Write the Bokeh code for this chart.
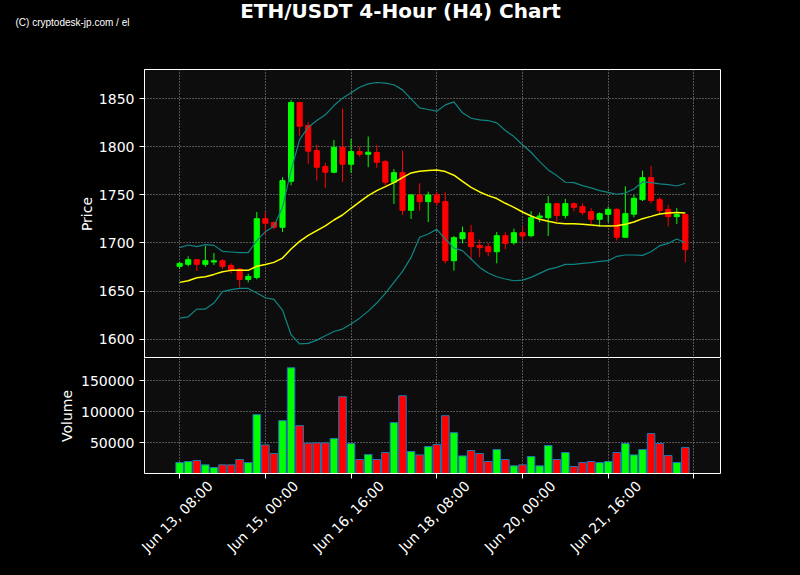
import math
from bokeh.plotting import figure
from bokeh.layouts import column, row
from bokeh.models import (Range1d, FixedTicker, Label, ColumnDataSource,
                          NumeralTickFormatter, LinearAxis)
from bokeh.embed import file_html
from bokeh.resources import INLINE

# ---------------- data ----------------
opens = [1675.7, 1677.8, 1682.6, 1677.8, 1680.2, 1681.6, 1676.7, 1672.9, 1662.1, 1664.2,
         1725.3, 1721.2, 1716.3, 1764.2, 1846.2, 1822.2, 1796.1, 1779.5, 1773.6, 1799.6,
         1781.9, 1795.1, 1792.3, 1794.1, 1784.7, 1763.2, 1773.2, 1734.0, 1750.0, 1743.0,
         1750.0, 1743.0, 1681.6, 1704.5, 1710.7, 1697.5, 1696.2, 1690.9, 1707.6, 1700.3,
         1710.7, 1707.6, 1726.3, 1726.3, 1740.9, 1728.5, 1740.9, 1737.8, 1732.6, 1724.6,
         1729.8, 1735.0, 1705.9, 1730.0, 1745.1, 1768.0, 1745.1, 1735.0, 1727.4, 1729.5]
highs = [1679.8, 1686.1, 1683.0, 1696.8, 1689.5, 1682.9, 1678.8, 1673.9, 1668.0, 1732.3,
         1732.3, 1722.5, 1768.4, 1848.6, 1846.2, 1825.6, 1802.4, 1783.6, 1807.3, 1839.6,
         1808.3, 1800.3, 1810.7, 1802.0, 1786.4, 1777.0, 1796.1, 1750.3, 1762.1, 1753.4,
         1753.4, 1752.7, 1707.3, 1717.0, 1718.7, 1703.4, 1700.0, 1711.4, 1711.1, 1714.9,
         1717.4, 1733.0, 1731.6, 1748.9, 1740.9, 1745.8, 1742.0, 1741.3, 1736.4, 1731.9,
         1737.8, 1736.1, 1759.0, 1750.0, 1775.3, 1780.2, 1747.5, 1739.6, 1736.4, 1729.5]
lows = [1672.9, 1675.7, 1670.8, 1675.3, 1677.0, 1672.9, 1668.4, 1653.8, 1659.0, 1662.1,
        1708.6, 1714.2, 1711.4, 1760.0, 1811.1, 1782.3, 1764.9, 1757.3, 1772.5, 1763.5,
        1772.9, 1789.6, 1778.8, 1778.1, 1760.0, 1740.6, 1729.1, 1725.0, 1733.6, 1721.8,
        1738.9, 1678.8, 1671.2, 1699.6, 1682.3, 1685.0, 1686.1, 1678.8, 1693.4, 1698.2,
        1703.1, 1705.9, 1721.5, 1707.3, 1722.2, 1725.6, 1733.0, 1729.1, 1719.7, 1716.9,
        1721.5, 1702.4, 1705.9, 1726.7, 1743.7, 1741.3, 1729.5, 1717.0, 1719.7, 1679.8]
closes = [1678.8, 1682.6, 1677.8, 1681.6, 1681.5, 1675.7, 1671.8, 1662.1, 1665.2, 1725.3,
          1720.5, 1716.3, 1764.9, 1846.2, 1821.5, 1795.5, 1778.8, 1773.6, 1799.6, 1781.9,
          1795.1, 1792.3, 1794.4, 1784.0, 1763.2, 1773.2, 1734.0, 1750.0, 1743.0, 1750.0,
          1742.3, 1681.6, 1705.5, 1710.7, 1696.2, 1695.1, 1690.9, 1707.6, 1699.6, 1710.7,
          1707.3, 1726.3, 1728.1, 1740.9, 1728.5, 1740.9, 1737.1, 1731.6, 1724.6, 1730.5,
          1735.0, 1705.9, 1730.5, 1746.5, 1768.0, 1744.1, 1733.7, 1727.4, 1729.5, 1693.0]
volumes = [17700, 19400, 21000, 14000, 9700, 14000, 14000, 22600, 17700, 95200,
           46200, 32300, 85500, 171000, 77400, 48900, 49500, 49500, 56500, 124200,
           48400, 22600, 30600, 22600, 33900, 82300, 125800, 35500, 30100, 43500,
           46800, 93500, 66100, 28500, 37100, 32300, 19400, 38700, 22600, 12400,
           14000, 27400, 12400, 45200, 22600, 33900, 11300, 17700, 19400, 17700,
           19400, 33900, 48400, 30100, 38700, 64500, 48400, 29000, 17700, 41900]
bb_mid = [1659.0, 1660.7, 1663.9, 1664.9, 1667.3, 1670.1, 1671.5, 1671.5, 1671.5, 1675.7,
          1677.7, 1679.8, 1684.3, 1693.7, 1701.7, 1707.9, 1712.8, 1717.7, 1723.9, 1729.1,
          1736.1, 1742.7, 1749.3, 1754.5, 1758.6, 1762.8, 1768.0, 1772.9, 1774.6, 1775.3,
          1776.0, 1774.3, 1770.5, 1764.2, 1757.9, 1753.1, 1749.3, 1746.2, 1741.3, 1737.1,
          1732.2, 1728.1, 1724.6, 1722.5, 1720.8, 1720.1, 1720.1, 1719.4, 1718.7, 1718.0,
          1717.7, 1718.0, 1719.4, 1721.8, 1725.3, 1727.7, 1730.2, 1731.2, 1731.6, 1731.2]
bb_upper = [1695.1, 1697.9, 1696.2, 1698.2, 1697.5, 1691.3, 1690.6, 1689.9, 1689.9, 1702.4,
            1711.8, 1717.3, 1737.1, 1775.3, 1807.6, 1820.5, 1827.4, 1833.3, 1843.0, 1850.7,
            1856.2, 1862.1, 1865.6, 1867.0, 1866.3, 1864.6, 1859.3, 1850.0, 1840.6, 1838.9,
            1837.1, 1843.7, 1846.8, 1835.4, 1829.8, 1828.1, 1827.4, 1825.0, 1817.0, 1810.7,
            1802.2, 1794.4, 1784.7, 1776.0, 1770.1, 1763.2, 1762.8, 1759.7, 1757.3, 1754.5,
            1752.7, 1750.7, 1752.0, 1756.2, 1763.5, 1762.8, 1761.4, 1760.7, 1759.3, 1762.1]
bb_lower = [1621.8, 1623.2, 1631.2, 1631.2, 1637.5, 1649.3, 1651.4, 1652.7, 1652.7, 1647.9,
            1643.0, 1641.3, 1630.2, 1604.5, 1595.1, 1595.5, 1598.9, 1603.4, 1607.9, 1610.4,
            1615.6, 1621.8, 1629.1, 1637.5, 1647.5, 1659.0, 1670.4, 1685.0, 1705.9, 1709.3,
            1714.2, 1704.1, 1694.7, 1692.0, 1683.3, 1674.6, 1668.7, 1664.9, 1662.5, 1660.7,
            1661.4, 1664.2, 1668.4, 1672.5, 1674.6, 1677.7, 1677.7, 1678.8, 1679.5, 1680.9,
            1681.6, 1686.1, 1687.5, 1687.5, 1687.1, 1690.9, 1697.2, 1699.6, 1704.1, 1700.3]
x_tick_positions = [0, 10, 20, 30, 40, 50, 60]
x_tick_labels = ["Jun 13, 08:00", "Jun 15, 00:00", "Jun 16, 16:00", "Jun 18, 08:00",
                 "Jun 20, 00:00", "Jun 21, 16:00", ""]
price_ticks = [1600, 1650, 1700, 1750, 1800, 1850]
volume_ticks = [50000, 100000, 150000]
title_text = "ETH/USDT 4-Hour (H4) Chart"
credit_text = "(C) cryptodesk-jp.com / el"

# ---------------- styling ----------------
UP = "#00ff00"
DOWN = "#ff0000"
FONT = "DejaVu Sans"
GRID_COLOR = "#9a9a9a"
W = 800
FRAME_L, FRAME_R = 144, 720
LABEL_SHIFT = 3.56   # rotated tick labels are centred on their tick (as in the original)

idx = list(range(len(opens)))
colors = [UP if c >= o else DOWN for o, c in zip(opens, closes)]
src = ColumnDataSource(dict(
    x=idx, o=opens, h=highs, l=lows, c=closes,
    top=[max(o, c) for o, c in zip(opens, closes)],
    bottom=[min(o, c) for o, c in zip(opens, closes)],
    color=colors, vol=volumes))

x_range = Range1d(-4.1, 63.1)


def style_axis(ax):
    ax.axis_line_color = "white"
    ax.major_tick_line_color = "white"
    ax.minor_tick_line_color = None
    ax.major_tick_out = 5
    ax.major_tick_in = 0
    ax.major_label_text_color = "white"
    ax.major_label_text_font = FONT
    ax.major_label_text_font_size = "14px"
    ax.major_label_standoff = 5
    ax.axis_label_text_color = "white"
    ax.axis_label_text_font = FONT
    ax.axis_label_text_font_size = "14px"
    ax.axis_label_text_font_style = "normal"


def style_grid(g, ticks=None):
    g.grid_line_color = GRID_COLOR
    g.grid_line_dash = "1 2"
    g.grid_line_width = 1
    if ticks is not None:
        g.ticker = FixedTicker(ticks=ticks)


common = dict(output_backend="svg", toolbar_location=None, x_range=x_range,
              background_fill_color="#0d0d0d", border_fill_color="#000000",
              min_border_left=FRAME_L, min_border_right=W - FRAME_R)

# ---------------- header (title + credit), full-width frame in page pixels ----------------
hdr = figure(width=W, height=40, x_range=Range1d(0, W), y_range=Range1d(40, 0),
             x_axis_location=None, y_axis_location=None, title=None,
             output_backend="svg", toolbar_location=None,
             min_border_left=0, min_border_right=0,
             min_border_top=0, min_border_bottom=0,
             background_fill_color="#000000", border_fill_color="#000000",
             outline_line_color=None)
hdr.xgrid.visible = False
hdr.ygrid.visible = False
hdr.add_layout(Label(x=400, y=10.5, text=title_text, text_align="center",
                     text_baseline="middle", text_color="white", text_font=FONT,
                     text_font_size="20px", text_font_style="bold"))
hdr.add_layout(Label(x=15, y=21.5, text=credit_text, text_align="left",
                     text_baseline="middle", text_color="white",
                     text_font="Liberation Sans Narrow, Liberation Sans",
                     text_font_size="10px"))

# ---------------- price panel ----------------
p = figure(width=W, height=318, y_range=Range1d(1579.8, 1880.5), title=None,
           x_axis_location=None, min_border_top=29, min_border_bottom=0,
           outline_line_color="white", outline_line_width=1, **common)
p.yaxis.ticker = FixedTicker(ticks=price_ticks)
p.yaxis.axis_label = "Price"
style_axis(p.yaxis[0])
p.yaxis.axis_label_standoff = 1
style_grid(p.ygrid[0])
style_grid(p.xgrid[0], x_tick_positions)

p.segment(x0="x", y0="l", x1="x", y1="h", line_color="color", line_width=1, source=src)
p.vbar(x="x", width=0.6, top="top", bottom="bottom", fill_color="color",
       line_color="color", line_width=1, source=src)
p.line(idx, bb_upper, line_color="#108585", line_width=1.2)
p.line(idx, bb_lower, line_color="#108585", line_width=1.2)
p.line(idx, bb_mid, line_color="#ffff00", line_width=1.5)

# ---------------- volume panel ----------------
v = figure(width=W, height=216, y_range=Range1d(0, 186000), title=None,
           min_border_top=0, min_border_bottom=101, outline_line_color=None, **common)
v.vbar(x="x", width=0.88, top="vol", bottom=0, fill_color="color",
       line_color="#1f77b4", line_width=1, source=src)
v.yaxis.ticker = FixedTicker(ticks=volume_ticks)
v.yaxis.formatter = NumeralTickFormatter(format="0")
v.yaxis.axis_label = "Volume"
style_axis(v.yaxis[0])
v.yaxis.axis_label_standoff = 3

# right border of the volume panel (its top border is the price panel's outline)
rb = LinearAxis(ticker=FixedTicker(ticks=[]))
style_axis(rb)
rb.major_tick_line_color = None
rb.major_label_text_font_size = "0px"
rb.major_tick_out = 0
v.add_layout(rb, "right")

# tick marks only
xa = v.xaxis[0]
xa.ticker = FixedTicker(ticks=x_tick_positions)
style_axis(xa)
xa.major_label_text_font_size = "0px"
xa.major_label_standoff = 0
xa.major_label_overrides = {t: "" for t in x_tick_positions}

# rotated labels, centred on the ticks
shifted = [t + LABEL_SHIFT for t in x_tick_positions]
lab_axis = LinearAxis(ticker=FixedTicker(ticks=shifted),
                      major_label_overrides={s: lab for s, lab in zip(shifted, x_tick_labels)})
style_axis(lab_axis)
lab_axis.axis_line_color = None
lab_axis.major_tick_line_color = None
lab_axis.major_tick_out = 0
lab_axis.major_label_standoff = 5
lab_axis.major_label_orientation = math.pi / 4
v.add_layout(lab_axis, "below")

style_grid(v.xgrid[0], x_tick_positions)
style_grid(v.ygrid[0])

layout = column(row(hdr, spacing=0), p, v, spacing=0, styles={"background-color": "#000000"})

html = file_html(layout, INLINE, title="ETH/USDT 4-Hour (H4) Chart")
html = html.replace("</head>", "<style>html,body{background-color:#000000;}</style></head>", 1)
open("out.html", "w").write(html)
